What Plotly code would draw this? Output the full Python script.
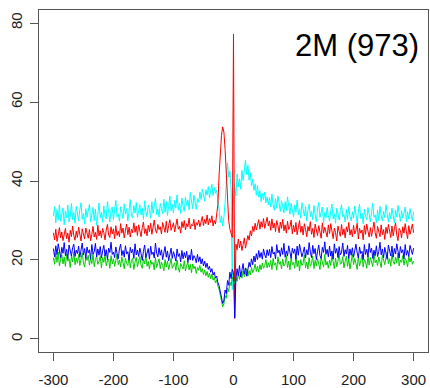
import plotly.graph_objects as go

# x positions: -300 .. 300 in steps of 2
positions = list(range(-300, 301, 2))

cyan_vals = [
    # -300 .. -60
    31.2, 33.5, 29.4, 32.8, 30.1, 34.0, 29.8, 31.6, 33.2, 28.9,
    32.4, 30.7, 33.9, 29.6, 31.1, 34.3, 30.2, 32.0, 29.3, 33.6,
    31.4, 29.9, 32.7, 34.5, 30.3, 31.8, 29.1, 33.0, 30.8, 32.3,
    34.1, 29.7, 31.5, 33.3, 30.0, 32.9, 28.8, 31.9, 34.4, 30.6,
    32.1, 29.5, 33.7, 31.0, 30.4, 34.8, 31.3, 29.6, 32.6, 33.4,
    30.2, 32.8, 35.1, 30.9, 31.7, 29.8, 33.5, 32.0, 30.5, 34.2,
    31.6, 33.0, 29.9, 32.4, 35.3, 31.2, 30.7, 33.8, 31.9, 34.6,
    30.8, 32.5, 34.0, 31.4, 33.1, 30.3, 35.0, 32.2, 31.0, 33.9,
    32.7, 30.6, 34.7, 31.8, 33.3, 35.6, 31.5, 32.9, 30.9, 34.3,
    33.0, 31.7, 35.4, 32.1, 34.8, 31.3, 33.6, 36.2, 32.4, 34.0,
    31.9, 35.1, 33.2, 36.5, 32.6, 34.4, 31.8, 35.7, 33.5, 32.3,
    36.0, 33.8, 35.2, 32.7, 37.1, 34.3, 33.0, 36.4, 34.9, 32.8,
    35.5,
    # -58 .. -2
    34.6, 37.2, 35.3, 38.0, 36.1, 34.9, 37.8, 36.4, 38.6, 35.7,
    37.5, 39.2, 36.3, 38.4, 36.9, 37.7, 35.1, 33.0, 29.4, 31.2,
    28.6, 30.8, 34.5, 39.8, 44.6, 41.0, 42.5, 38.0, 12.5,
    # 0
    36.5,
    # 2 .. 58
    39.0, 36.2, 41.8, 38.5, 40.6, 37.9, 42.7, 40.1, 43.4, 45.3,
    41.6, 44.0, 40.2, 42.1, 38.7, 40.5, 37.6, 39.3, 36.4, 38.8,
    35.9, 37.5, 34.8, 36.9, 35.3, 37.2, 34.5, 36.0, 33.9,
    # 60 .. 300
    35.8, 33.4, 36.7, 34.0, 32.6, 35.5, 33.1, 36.2, 34.4, 32.3,
    35.0, 33.7, 31.9, 34.8, 32.5, 36.0, 33.2, 31.6, 34.3, 32.8,
    30.9, 33.9, 32.1, 35.2, 31.4, 33.0, 30.6, 34.5, 32.4, 31.1,
    33.6, 29.9, 32.7, 34.1, 31.0, 32.3, 30.2, 33.8, 31.5, 29.7,
    32.9, 34.6, 30.8, 31.9, 33.4, 29.5, 32.0, 30.7, 33.3, 31.2,
    29.8, 32.5, 34.2, 30.4, 31.7, 29.3, 33.1, 31.8, 30.1, 32.6,
    34.0, 30.9, 31.5, 29.6, 32.8, 30.3, 33.5, 31.1, 29.9, 32.2,
    30.6, 33.7, 31.3, 29.4, 32.4, 34.1, 30.5, 31.9, 29.2, 32.9,
    31.0, 30.2, 33.3, 31.6, 29.7, 32.1, 34.4, 30.8, 31.4, 29.5,
    32.7, 30.0, 33.6, 31.2, 29.9, 32.3, 30.7, 34.0, 31.8, 29.6,
    32.0, 30.4, 33.1, 31.5, 29.3, 32.6, 30.9, 33.8, 31.1, 29.8,
    32.5, 30.6, 31.9, 33.4, 29.7, 32.2, 30.3, 33.0, 31.4, 29.9,
    32.1,
]

red_vals = [
    # -300 .. -60
    26.9, 25.1, 27.8, 24.7, 26.3, 28.2, 25.6, 27.1, 24.9, 26.6,
    28.0, 25.4, 26.8, 24.5, 27.5, 25.9, 28.6, 26.2, 25.0, 27.3,
    25.7, 28.3, 26.4, 24.8, 27.9, 26.0, 25.3, 28.1, 26.7, 25.5,
    27.7, 24.9, 26.5, 28.5, 25.8, 27.0, 25.2, 28.8, 26.1, 27.4,
    25.6, 28.0, 26.9, 25.1, 27.6, 29.0, 26.3, 25.7, 28.4, 26.6,
    27.9, 25.4, 28.7, 26.2, 27.3, 25.9, 29.2, 26.8, 28.1, 25.6,
    27.5, 29.1, 26.4, 28.3, 25.8, 27.8, 26.9, 29.4, 27.0, 28.6,
    26.2, 28.9, 27.4, 25.9, 28.2, 29.6, 26.7, 27.9, 26.1, 28.8,
    27.2, 29.3, 26.5, 28.0, 30.1, 27.6, 26.8, 29.0, 27.7, 28.4,
    26.6, 29.5, 28.1, 27.0, 29.8, 26.9, 28.7, 30.2, 27.5, 28.3,
    29.4, 27.1, 28.9, 30.4, 27.8, 28.5, 26.8, 29.7, 28.2, 30.0,
    27.6, 29.2, 28.4, 30.6, 27.9, 29.0, 28.6, 30.3, 27.7, 29.5,
    28.8,
    # -58 .. -2
    30.1, 28.4, 29.6, 31.0, 28.7, 30.3, 29.2, 31.4, 28.9, 30.5,
    29.5, 31.2, 28.6, 30.0, 29.1, 31.5, 34.0, 41.5, 47.8, 51.6,
    53.7, 52.4, 48.0, 41.2, 34.5, 30.0, 27.8, 26.3, 25.7,
    # 0
    77.2,
    # 2 .. 58
    5.2, 24.0, 22.6, 25.3, 23.1, 24.8, 22.4, 23.9, 25.6, 23.0,
    24.5, 26.2, 25.0, 27.4, 26.1, 28.5, 27.2, 29.3, 27.6, 28.9,
    30.2, 27.8, 29.7, 28.3, 30.5, 28.0, 29.4, 30.8, 28.6,
    # 60 .. 300
    29.9, 27.5, 30.4, 28.1, 29.3, 27.2, 30.0, 28.7, 26.9, 29.6,
    28.0, 30.3, 27.4, 28.9, 26.8, 29.8, 27.7, 28.4, 30.1, 26.6,
    28.8, 27.1, 29.5, 26.4, 28.2, 30.0, 27.0, 28.6, 26.3, 29.2,
    27.8, 25.9, 28.5, 27.3, 29.7, 26.5, 28.0, 25.7, 29.1, 27.6,
    26.2, 28.7, 27.4, 25.5, 29.4, 26.8, 28.3, 27.0, 25.8, 28.9,
    26.7, 29.2, 27.5, 25.4, 28.1, 26.9, 24.8, 28.6, 27.2, 26.0,
    29.0, 26.4, 27.9, 25.6, 28.4, 27.1, 29.5, 26.3, 27.7, 25.9,
    28.8, 26.6, 27.4, 29.3, 25.3, 28.0, 26.8, 27.6, 25.1, 28.7,
    26.5, 29.1, 27.3, 25.8, 28.2, 26.0, 27.8, 29.6, 26.9, 25.5,
    28.5, 27.0, 25.9, 28.9, 26.4, 27.7, 25.2, 28.3, 26.7, 29.0,
    27.2, 25.7, 28.6, 26.1, 27.9, 29.4, 26.3, 24.9, 28.0, 27.5,
    25.6, 28.4, 26.8, 29.2, 27.1, 25.4, 28.7, 26.5, 27.8, 29.1,
    26.9,
]

blue_vals = [
    # -300 .. -60
    22.9, 20.8, 23.6, 21.4, 24.1, 22.0, 20.6, 23.2, 21.7, 24.4,
    21.1, 22.7, 20.3, 23.8, 22.4, 21.0, 23.1, 24.0, 20.9, 22.5,
    21.6, 23.5, 20.7, 22.2, 24.3, 21.3, 22.9, 20.4, 23.3, 21.8,
    22.6, 20.2, 23.9, 21.5, 22.1, 24.2, 20.8, 22.8, 21.2, 23.4,
    20.5, 22.3, 23.7, 21.0, 22.6, 20.1, 23.0, 21.9, 24.5, 21.4,
    22.0, 20.6, 23.3, 21.7, 20.3, 22.8, 24.0, 21.1, 22.4, 20.7,
    23.6, 21.5, 22.1, 20.0, 23.2, 21.8, 22.7, 20.4, 24.1, 21.3,
    22.5, 20.9, 23.0, 21.6, 19.9, 22.2, 23.8, 20.6, 21.9, 22.9,
    20.2, 23.5, 21.4, 22.0, 20.5, 24.3, 21.7, 20.8, 23.1, 21.2,
    22.6, 20.1, 21.8, 23.4, 20.7, 22.3, 19.8, 21.5, 23.0, 20.4,
    22.1, 21.0, 19.7, 22.8, 20.9, 21.6, 19.5, 22.4, 20.3, 21.9,
    20.6, 22.2, 19.4, 21.3, 20.0, 22.7, 19.9, 21.1, 20.5, 19.3,
    21.4,
    # -58 .. -2
    19.6, 20.8, 19.0, 20.3, 18.5, 19.7, 18.1, 19.2, 17.6, 18.4,
    16.9, 17.8, 16.2, 16.9, 15.4, 15.9, 14.3, 13.5, 12.0, 10.6,
    9.0, 9.8, 12.4, 11.5, 14.8, 13.6, 16.9, 15.3, 17.6,
    # 0
    16.8,
    # 2 .. 58
    5.3, 15.2, 17.8, 16.0, 18.6, 15.7, 17.3, 19.1, 16.4, 18.0,
    15.9, 17.7, 19.4, 18.2, 20.3, 18.8, 21.0, 19.5, 21.6, 20.1,
    22.4, 20.6, 21.9, 20.2, 22.8, 21.3, 20.5, 22.6, 21.1,
    # 60 .. 300
    22.7, 20.6, 23.4, 21.5, 22.0, 20.3, 23.9, 21.8, 22.5, 20.9,
    23.1, 21.4, 24.2, 20.7, 22.3, 21.0, 23.6, 22.1, 20.4, 23.0,
    21.7, 22.8, 20.2, 23.5, 21.2, 24.0, 22.4, 20.8, 21.9, 23.3,
    20.5, 22.6, 21.3, 24.4, 22.0, 20.6, 23.7, 21.6, 22.9, 20.1,
    22.2, 23.8, 21.1, 20.4, 23.2, 21.9, 24.6, 21.4, 22.7, 20.8,
    23.5, 21.0, 22.3, 20.2, 24.1, 21.7, 22.9, 20.6, 23.4, 21.3,
    22.0, 24.3, 20.9, 22.6, 21.5, 23.7, 20.3, 22.8, 21.2, 23.1,
    20.7, 22.4, 24.0, 21.8, 20.5, 23.3, 21.6, 22.2, 20.1, 23.9,
    21.4, 22.7, 20.8, 24.2, 21.9, 23.0, 20.4, 22.5, 21.1, 23.6,
    20.9, 22.1, 24.5, 21.3, 22.8, 20.6, 23.2, 21.7, 20.2, 23.8,
    22.3, 21.0, 23.5, 20.7, 22.9, 21.5, 24.1, 22.0, 20.5, 23.4,
    21.8, 22.6, 20.3, 23.9, 21.2, 22.4, 20.9, 23.7, 22.1, 21.4,
    23.0,
]

green_vals = [
    # -300 .. -60
    20.6, 18.9, 21.7, 19.4, 22.0, 18.5, 20.2, 21.3, 19.0, 20.8,
    18.4, 21.5, 19.7, 20.3, 18.1, 21.0, 19.5, 22.1, 18.8, 20.5,
    19.2, 21.4, 18.6, 20.0, 21.8, 19.3, 18.2, 20.7, 19.9, 21.2,
    18.7, 20.4, 19.1, 21.6, 18.3, 20.1, 21.0, 18.9, 19.6, 20.9,
    18.0, 20.6, 19.4, 21.3, 18.5, 19.8, 20.2, 17.9, 21.1, 19.0,
    20.3, 18.4, 19.7, 21.5, 18.8, 20.0, 18.2, 20.8, 19.3, 17.8,
    20.5, 19.1, 18.6, 21.0, 18.0, 19.9, 20.4, 17.6, 19.5, 20.7,
    18.3, 19.8, 20.9, 18.7, 17.9, 20.2, 19.0, 21.1, 18.4, 19.6,
    17.7, 20.0, 18.9, 19.4, 17.5, 20.6, 18.1, 19.2, 20.3, 17.8,
    19.5, 18.6, 17.3, 20.1, 18.2, 19.7, 17.6, 18.9, 20.4, 17.9,
    18.5, 19.3, 17.4, 20.0, 18.0, 16.9, 19.1, 18.3, 17.7, 19.8,
    17.2, 18.7, 19.4, 17.5, 18.9, 16.8, 19.0, 17.8, 18.4, 16.6,
    18.1,
    # -58 .. -2
    17.4, 18.6, 16.9, 17.8, 16.3, 17.5, 16.0, 17.1, 15.6, 16.7,
    15.2, 16.4, 14.9, 15.6, 14.2, 15.0, 13.4, 12.6, 11.2, 9.8,
    8.1, 8.9, 11.0, 10.3, 12.9, 12.0, 14.4, 13.5, 15.6,
    # 0
    15.0,
    # 2 .. 58
    14.0, 15.8, 14.6, 16.5, 15.1, 16.9, 15.4, 17.2, 15.8, 16.4,
    17.8, 15.9, 17.3, 16.2, 18.1, 16.8, 17.6, 19.0, 17.1, 18.4,
    16.9, 18.8, 17.5, 19.2, 17.9, 18.6, 20.1, 18.0, 19.3,
    # 60 .. 300
    18.2, 19.9, 17.6, 20.4, 18.7, 19.3, 17.4, 20.8, 18.9, 19.6,
    17.8, 20.2, 18.5, 19.0, 21.1, 18.1, 19.7, 17.5, 20.5, 18.8,
    19.4, 17.9, 20.9, 18.3, 19.8, 17.2, 20.1, 18.6, 19.2, 21.3,
    18.0, 19.5, 17.7, 20.6, 18.4, 19.1, 21.0, 17.8, 19.9, 18.5,
    20.3, 18.9, 17.6, 20.7, 19.3, 18.2, 21.4, 18.7, 19.6, 17.9,
    20.0, 18.6, 21.2, 19.4, 17.8, 20.5, 18.3, 19.7, 21.6, 18.9,
    19.2, 20.8, 18.0, 19.6, 21.0, 18.4, 20.2, 17.7, 19.9, 21.5,
    18.8, 20.4, 19.1, 17.6, 20.9, 18.5, 19.8, 21.3, 18.2, 20.1,
    19.5, 17.9, 21.1, 18.7, 20.6, 19.0, 18.3, 21.7, 19.3, 20.0,
    18.6, 20.8, 19.4, 18.1, 21.2, 19.7, 18.8, 20.5, 22.0, 19.1,
    20.3, 18.4, 21.5, 19.6, 18.9, 20.7, 19.2, 21.8, 18.5, 20.0,
    19.4, 21.1, 18.7, 20.4, 19.8, 18.3, 21.0, 19.5, 20.6, 18.9,
    19.7,
]

x_ticks = [-300, -200, -100, 0, 100, 200, 300]
y_ticks = [0, 20, 40, 60, 80]
title_text = "2M (973)"

series = [
    ("cyan", cyan_vals, "#00FFFF"),
    ("red", red_vals, "#FF0000"),
    ("green", green_vals, "#00CC00"),
    ("blue", blue_vals, "#0000FF"),
]

fig = go.Figure()
for name, vals, col in series:
    n = min(len(vals), len(positions))
    fig.add_trace(go.Scatter(x=positions[:n], y=vals[:n], mode="lines", name=name,
                             line=dict(color=col, width=1), showlegend=False,
                             hoverinfo="skip"))

axis_col = "#555555"
font_col = "#222222"
fig.update_layout(
    width=430, height=388,
    margin=dict(l=39, r=2, t=10, b=36),
    paper_bgcolor="white", plot_bgcolor="white",
    font=dict(family="Liberation Sans, Arial, sans-serif", size=15, color=font_col),
    xaxis=dict(range=[-324, 324], tickvals=x_ticks, ticktext=[str(v) for v in x_ticks],
               showgrid=False, zeroline=False, showline=True, mirror=True,
               linecolor=axis_col, linewidth=1, ticks="outside", ticklen=8,
               tickcolor=axis_col, tickwidth=1, ticklabelstandoff=6, automargin=False),
    yaxis=dict(range=[-3.3, 83.3], tickvals=y_ticks, ticktext=[str(v) for v in y_ticks],
               showgrid=False, zeroline=False, showline=True, mirror=True,
               linecolor=axis_col, linewidth=1, ticks="outside", ticklen=8,
               tickcolor=axis_col, tickwidth=1, tickangle=-90, ticklabelstandoff=2,
               automargin=False),
    annotations=[dict(text=title_text, xref="paper", yref="paper", x=0.982, y=0.895,
                      xanchor="right", yanchor="middle", showarrow=False,
                      font=dict(size=31, color="#000000",
                                family="Liberation Sans, Arial, sans-serif"))],
)

fig.write_html("out.html", config={"displayModeBar": False},
               post_script="document.body.style.margin='0';document.body.style.overflow='hidden';")
